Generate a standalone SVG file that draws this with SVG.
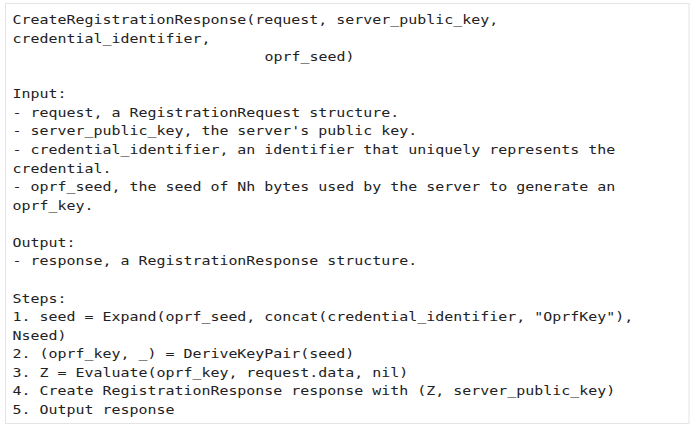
<svg xmlns="http://www.w3.org/2000/svg" width="695" height="430" viewBox="0 0 695 430">
<style>
.t{font-family:"DejaVu Sans Mono","Liberation Mono",monospace;font-size:13px;fill:#222;}
</style>
<rect x="0" y="0" width="695" height="430" fill="#ffffff"/>
<rect id="frame" x="5.5" y="3.5" width="683.5" height="420" fill="#ffffff" stroke="#e4e4e4" stroke-width="1"/>
<g id="code" transform="translate(12.5,0) scale(1.15,1)">
<text class="t" x="0" y="24">CreateRegistrationResponse(request, server_public_key,</text>
<text class="t" x="0" y="42.6">credential_identifier,</text>
<text class="t" x="219.1" y="61.1">oprf_seed)</text>
<text class="t" x="0" y="98.3">Input:</text>
<text class="t" x="0" y="116.9">- request, a RegistrationRequest structure.</text>
<text class="t" x="0" y="135.4">- server_public_key, the server's public key.</text>
<text class="t" x="0" y="154">- credential_identifier, an identifier that uniquely represents the</text>
<text class="t" x="0" y="172.6">credential.</text>
<text class="t" x="0" y="191.1">- oprf_seed, the seed of Nh bytes used by the server to generate an</text>
<text class="t" x="0" y="209.7">oprf_key.</text>
<text class="t" x="0" y="246.8">Output:</text>
<text class="t" x="0" y="265.4">- response, a RegistrationResponse structure.</text>
<text class="t" x="0" y="302.6">Steps:</text>
<text class="t" x="0" y="321.1">1. seed = Expand(oprf_seed, concat(credential_identifier, "OprfKey"),</text>
<text class="t" x="0" y="339.7">Nseed)</text>
<text class="t" x="0" y="358.3">2. (oprf_key, _) = DeriveKeyPair(seed)</text>
<text class="t" x="0" y="376.8">3. Z = Evaluate(oprf_key, request.data, nil)</text>
<text class="t" x="0" y="395.4">4. Create RegistrationResponse response with (Z, server_public_key)</text>
<text class="t" x="0" y="414">5. Output response</text>
</g>
</svg>
